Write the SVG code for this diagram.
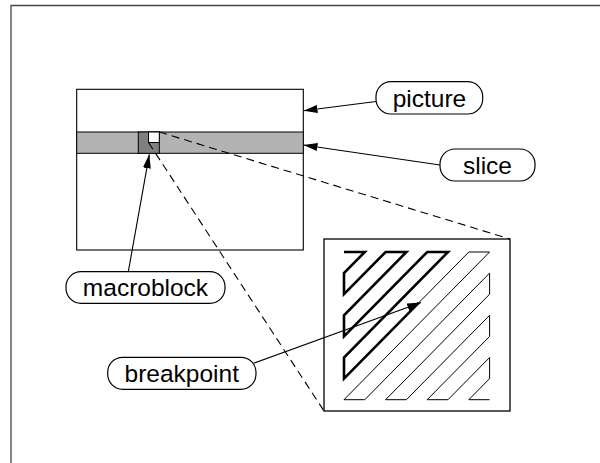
<svg xmlns="http://www.w3.org/2000/svg" width="600" height="463" viewBox="0 0 600 463">
<style>
.lbl rect{fill:#fff;stroke:#000;stroke-width:1.2}
.lbl text{font-family:"Liberation Sans",Arial,sans-serif;font-size:24.5px;text-anchor:middle;fill:#000}
.conn{stroke:#000;stroke-width:1.1;fill:none}
.dash{stroke:#000;stroke-width:1.1;fill:none;stroke-dasharray:8 5}
</style>
<defs>
<marker id="ah" viewBox="0 0 14 8" refX="14" refY="4" markerWidth="14" markerHeight="8" markerUnits="userSpaceOnUse" orient="auto">
<path d="M0,0 L14,4 L0,8 Z" fill="#000"/>
</marker>
</defs>
<rect width="600" height="463" fill="#fff"/>
<path d="M11,463 V5.5 H600" fill="none" stroke="#444" stroke-width="1.3"/>
<g id="picture-frame">
<rect x="76.7" y="89.3" width="226.6" height="160.7" fill="#fff" stroke="#000" stroke-width="1.1"/>
<rect x="76.7" y="132" width="226.6" height="21.3" fill="#b3b3b3" stroke="#000" stroke-width="1"/>
<rect x="138.3" y="132" width="21" height="21.3" fill="#808080" stroke="#000" stroke-width="1"/>
<rect x="148.5" y="132" width="10.8" height="10.5" fill="#fff" stroke="#000" stroke-width="1"/>
</g>
<g id="zoom-block">
<rect x="324" y="239" width="186" height="172" fill="#fff" stroke="#000" stroke-width="1.3"/>
<path d="M344,252 L364.8,252 L344,273.1 L344,294.2 L385.6,252 L406.4,252 L344,315.3 L344,336.4 L427.2,252 L448,252 L344,357.5 L344,378.6 L418.9,302.6" fill="none" stroke="#000" stroke-width="2.6" stroke-linejoin="miter"/>
<path d="M418.9,302.6 L468.8,252 L489.6,252 L344,399.7 L364.8,399.7 L489.6,273.1 L489.6,294.2 L385.6,399.7 L406.4,399.7 L489.6,315.3 L489.6,336.4 L427.2,399.7 L448,399.7 L489.6,357.5 L489.6,378.6 L468.8,399.7 L489.6,399.7" fill="none" stroke="#000" stroke-width="1"/>
</g>
<g id="connectors">
<line class="dash" x1="159.3" y1="132" x2="510" y2="239"/>
<line class="dash" x1="148.5" y1="142.5" x2="324" y2="411"/>
<line class="conn" x1="376" y1="101.5" x2="303.5" y2="110.7" marker-end="url(#ah)"/>
<line class="conn" x1="440" y1="165" x2="303.5" y2="145" marker-end="url(#ah)"/>
<line class="conn" x1="128.3" y1="271.7" x2="149.3" y2="154.3" marker-end="url(#ah)"/>
<line class="conn" x1="253.5" y1="363.3" x2="421" y2="302.5" marker-end="url(#ah)"/>
</g>
<g id="label-picture" class="lbl">
<rect x="376" y="81.7" width="106.7" height="32.3" rx="15" ry="15"/>
<text x="429.4" y="106.5">picture</text>
</g>
<g id="label-slice" class="lbl">
<rect x="440" y="149" width="95" height="32" rx="15" ry="15"/>
<text x="487.5" y="173.5">slice</text>
</g>
<g id="label-macroblock" class="lbl">
<rect x="66" y="271.7" width="159" height="31.6" rx="15" ry="15"/>
<text x="145.5" y="296">macroblock</text>
</g>
<g id="label-breakpoint" class="lbl">
<rect x="107.7" y="357.3" width="148.3" height="32" rx="15" ry="15"/>
<text x="181.8" y="381.7">breakpoint</text>
</g>
</svg>
